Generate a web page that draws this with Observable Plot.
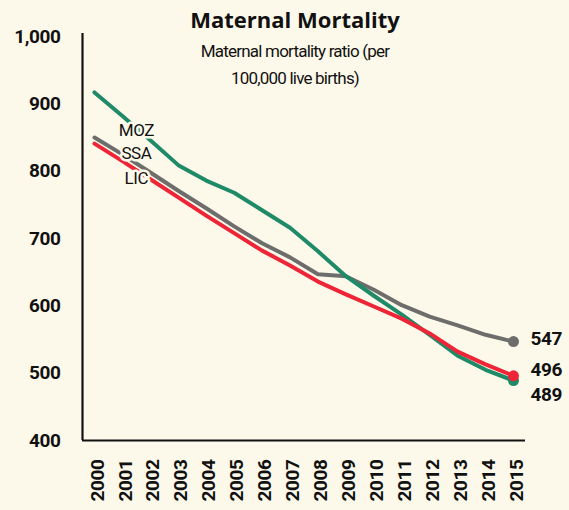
<!DOCTYPE html>
<html>
<head>
<meta charset="utf-8">
<script src="https://cdn.jsdelivr.net/npm/d3@7"></script>
<script src="https://cdn.jsdelivr.net/npm/@observablehq/plot@0.6"></script>
<style>
  html, body { margin: 0; padding: 0; background: #fdf9ea; }
  #wrap { position: relative; width: 569px; height: 510px; overflow: hidden; }
  .title { position: absolute; left: 145px; width: 300px; top: 8px; text-align: center;
    font-family: "Open Sans", "DejaVu Sans", sans-serif; font-weight: 700; font-size: 22px; line-height: 22px; color: #111; }
  .subtitle { position: absolute; left: 145px; width: 300px; top: 38px; text-align: center;
    font-family: Roboto, "Noto Sans", sans-serif; font-size: 17px; letter-spacing: -0.8px; line-height: 27px; color: #111; }
  svg text { letter-spacing: -0.4px; }
</style>
</head>
<body>
<div id="wrap">
  <div id="chart"></div>
  <div class="title">Maternal Mortality</div>
  <div class="subtitle">Maternal mortality ratio (per<br>100,000 live births)</div>
</div>
<script>
// ---- data ----
const years = [2000, 2001, 2002, 2003, 2004, 2005, 2006, 2007, 2008, 2009, 2010, 2011, 2012, 2013, 2014, 2015];
const seriesNames = ["SSA", "MOZ", "LIC"];
const ssaValues = [850, 825, 798, 771, 745, 718, 693, 672, 647, 644, 624, 601, 584, 571, 557, 547];
const mozValues = [917, 882, 846, 809, 786, 768, 742, 716, 681, 644, 615, 587, 557, 526, 505, 489];
const licValues = [841, 815, 788, 761, 734, 708, 682, 660, 636, 617, 599, 581, 559, 532, 513, 496];
const yTicks = [400, 500, 600, 700, 800, 900, 1000];
// series name labels near the start of the lines
const nameLabels = ["MOZ", "SSA", "LIC"];
const nameLabelYear = [2001.5, 2001.5, 2001.5];
const nameLabelValue = [861, 826, 789];

// ---- styling ----
const colors = { SSA: "#6d6d6b", MOZ: "#1f8a68", LIC: "#ee2437" };
const endDy = { SSA: -3, MOZ: 14, LIC: -6 };
const bg = "#fdf9ea";
const font = "Roboto, 'Noto Sans', sans-serif";

const valuesBySeries = { SSA: ssaValues, MOZ: mozValues, LIC: licValues };
const rows = seriesNames.flatMap(s => years.map((yr, i) => ({ series: s, year: yr, value: valuesBySeries[s][i] })));
const last = seriesNames.map(s => ({ series: s, year: years[years.length - 1], value: valuesBySeries[s][years.length - 1] }));
const labels = nameLabels.map((n, i) => ({ name: n, year: nameLabelYear[i], value: nameLabelValue[i] }));

const xDomain = [years[0] - 0.43, years[years.length - 1] + 0.43];

const endLabelMarks = seriesNames.map(s =>
  Plot.text(last.filter(d => d.series === s), {
    x: "year", y: "value", text: d => String(d.value), textAnchor: "start", dx: 17, dy: endDy[s],
    fontSize: 19, fontWeight: "bold", fontFamily: font, fill: "#111"
  })
);

const chart = Plot.plot({
  width: 569,
  height: 510,
  marginLeft: 82,
  marginRight: 44,
  marginTop: 33,
  marginBottom: 70,
  style: { background: bg, fontFamily: font, color: "#111" },
  x: { domain: xDomain, label: null },
  y: { domain: [400, 1004.5], label: null },
  color: { domain: seriesNames, range: seriesNames.map(s => colors[s]) },
  marks: [
    Plot.axisY({ ticks: yTicks, tickFormat: d3.format(","), tickSize: 0, tickPadding: 22,
      fontSize: 19, fontWeight: "bold", fontFamily: font, label: null }),
    Plot.axisX({ ticks: years, tickFormat: d => String(d), tickSize: 0, tickPadding: 19, tickRotate: -90,
      fontSize: 19, fontWeight: "bold", fontFamily: font, label: null, dx: 3 }),
    Plot.ruleY([400], { stroke: "#111", strokeWidth: 2.2 }),
    Plot.ruleX([xDomain[0]], { stroke: "#111", strokeWidth: 2.2 }),
    Plot.lineY(rows, { x: "year", y: "value", z: "series", stroke: "series", strokeWidth: 4, strokeLinejoin: "round", strokeLinecap: "round" }),
    Plot.dot(last, { x: "year", y: "value", fill: "series", r: 5.5 }),
    ...endLabelMarks,
    Plot.text(labels, { x: "year", y: "value", text: "name", fontSize: 17, fontFamily: font, fill: "#111",
      stroke: bg, strokeWidth: 5, style: "letter-spacing:-0.8px" })
  ]
});
document.getElementById("chart").appendChild(chart);
</script>
</body>
</html>
